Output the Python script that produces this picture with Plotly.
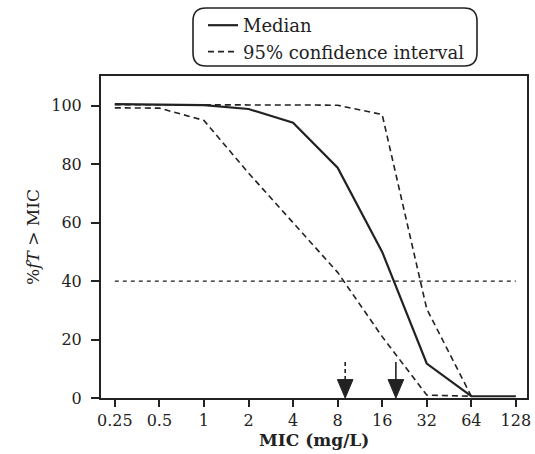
import math
import plotly.graph_objects as go

# ---- data ----
mic = [0.25, 0.5, 1, 2, 4, 8, 16, 32, 64, 128]
median = [100.6, 100.4, 100.2, 98.9, 94.2, 78.8, 50.0, 11.8, 0.6, 0.6]
ci_mic = [0.25, 0.5, 1, 2, 4, 8, 16, 32, 64]
ci_upper = [100.4, 100.3, 100.3, 100.3, 100.3, 100.2, 97.0, 30.5, 0.6]
ci_lower = [99.3, 99.2, 95.0, 77.0, 60.0, 43.0, 21.0, 1.0, 0.6]
target = 40
target_mic = [0.25, 128]
arrow_mic = [9.0, 19.8]          # dashed (lower CI) arrow, solid (median) arrow
arrow_dash = ["dash", "solid"]
tick_vals = [0.25, 0.5, 1, 2, 4, 8, 16, 32, 64, 128]
tick_text = ["0.25", "0.5", "1", "2", "4", "8", "16", "32", "64", "128"]
y_ticks = [0, 20, 40, 60, 80, 100]
x_title = "<b>MIC (mg/L)</b>"
y_title = "%<i>fT</i> > MIC"

INK = "#222222"
FONT = "DejaVu Serif"

fig = go.Figure()

fig.add_trace(go.Scatter(x=mic, y=median, mode="lines", name="Median",
                         line=dict(color=INK, width=2.2)))
fig.add_trace(go.Scatter(x=ci_mic, y=ci_upper, mode="lines", name="95% confidence interval",
                         line=dict(color=INK, width=1.6, dash="6px,4px")))
fig.add_trace(go.Scatter(x=ci_mic, y=ci_lower, mode="lines", showlegend=False,
                         line=dict(color=INK, width=1.6, dash="6px,4px")))
fig.add_trace(go.Scatter(x=target_mic, y=[target, target], mode="lines", showlegend=False,
                         line=dict(color=INK, width=1.4, dash="4px,4px")))

# arrows marking where the curves cross the target
head_half = 0.175   # in log2 units
for m, d in zip(arrow_mic, arrow_dash):
    fig.add_trace(go.Scatter(x=[m, m], y=[12.3, 5.5], mode="lines", showlegend=False,
                             line=dict(color=INK, width=1.6, dash="4px,3px" if d == "dash" else "solid"),
                             cliponaxis=False))
    fig.add_trace(go.Scatter(x=[m * 2 ** (-head_half), m * 2 ** head_half, m, m * 2 ** (-head_half)],
                             y=[6.3, 6.3, 0, 6.3], mode="lines", fill="toself",
                             fillcolor=INK, line=dict(color=INK, width=1),
                             showlegend=False, cliponaxis=False))

L2 = math.log10(2)
fig.update_layout(
    width=535, height=454,
    margin=dict(l=101, r=8, t=76, b=56, autoexpand=False),
    paper_bgcolor="white", plot_bgcolor="white",
    font=dict(family=FONT, color=INK, size=16),
    showlegend=True,
    legend=dict(x=203 / 535, y=1 - 7 / 454, xref="container", yref="container",
                xanchor="left", yanchor="top",
                bgcolor="rgba(0,0,0,0)", borderwidth=0,
                font=dict(family=FONT, size=18, color=INK),
                tracegroupgap=0, itemwidth=30),
    xaxis=dict(type="log", range=[-2.31 * L2, 7.25 * L2], automargin=False,
               tickvals=tick_vals, ticktext=tick_text,
               ticks="outside", ticklen=7, tickwidth=2, tickcolor=INK,
               showline=True, linewidth=2, linecolor=INK, mirror=True,
               showgrid=False, zeroline=False, ticklabelstandoff=0,
               tickfont=dict(family=FONT, size=16, color=INK)),
    yaxis=dict(range=[0, 110.2], tickvals=y_ticks, automargin=False,
               ticks="outside", ticklen=8, tickwidth=2, tickcolor=INK,
               showline=True, linewidth=2, linecolor=INK, mirror=True,
               showgrid=False, zeroline=False, ticklabelstandoff=6,
               tickfont=dict(family=FONT, size=16, color=INK)),
)

# axis titles as annotations (paper coordinates)
fig.add_annotation(text=x_title, xref="paper", yref="paper", x=0.5, y=(398 - 440) / 322,
                   xanchor="center", yanchor="middle", showarrow=False,
                   font=dict(family=FONT, size=17, color=INK))
fig.add_annotation(text=y_title, xref="paper", yref="paper", x=(33 - 101) / 426, y=0.5,
                   xanchor="center", yanchor="middle", showarrow=False, textangle=-90,
                   font=dict(family=FONT, size=17, color=INK))

# rounded legend frame (paper coordinates)
x0, x1 = (193 - 101) / 426, (477 - 101) / 426
y0, y1 = (398 - 66) / 322, (398 - 8) / 322
rx, ry = 13 / 426, 13 / 322
path = (f"M {x0+rx},{y1} L {x1-rx},{y1} Q {x1},{y1} {x1},{y1-ry} "
        f"L {x1},{y0+ry} Q {x1},{y0} {x1-rx},{y0} L {x0+rx},{y0} "
        f"Q {x0},{y0} {x0},{y0+ry} L {x0},{y1-ry} Q {x0},{y1} {x0+rx},{y1} Z")
fig.add_shape(type="path", path=path, xref="paper", yref="paper",
              line=dict(color=INK, width=1.6), layer="below")

fig.write_html("out.html")
